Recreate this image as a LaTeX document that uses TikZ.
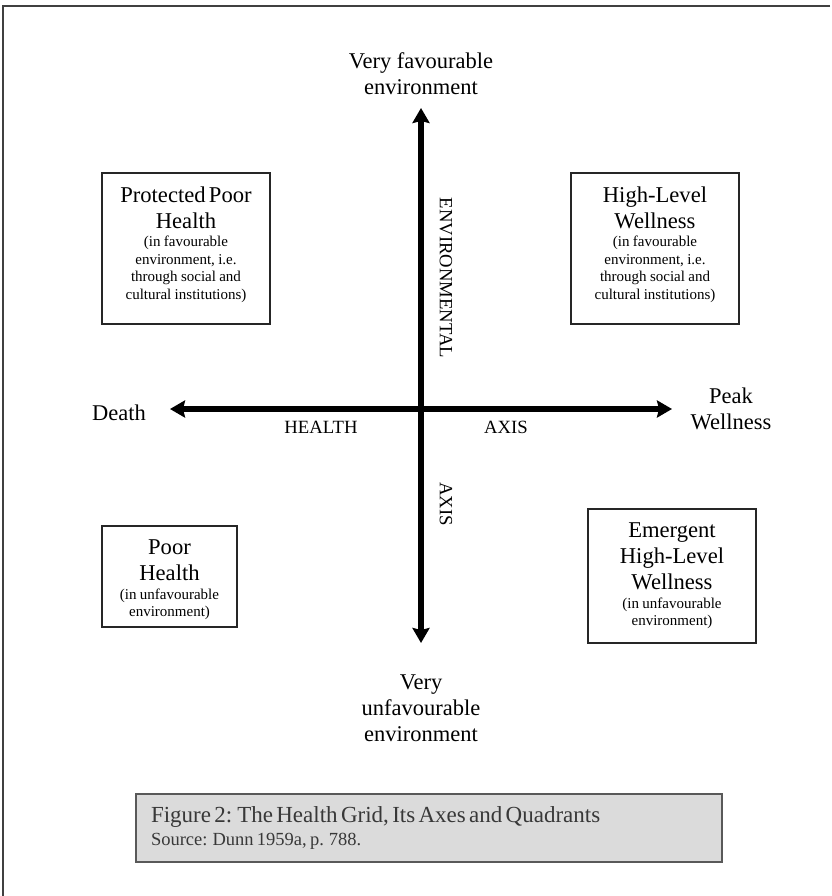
\documentclass[tikz,border=0pt]{standalone}
\usepackage{fontspec}
\setmainfont{Liberation Serif}
\usetikzlibrary{arrows.meta}
\newcommand\qtitle{\fontsize{22.6}{26}\selectfont}
\newcommand\qsub{\vspace{0.8pt}\fontsize{15}{17.6}\selectfont}
\newcommand\qend{\par\vspace{8pt}\hrule height 0pt width 0pt\relax}
\newcommand\qtop{\hrule height 0pt width 0pt\vspace{7pt}}
\begin{document}
\begin{tikzpicture}[x=1pt,y=-1pt,
  lbl/.style={align=center,font=\fontsize{22.5}{26}\selectfont,inner sep=0pt},
  axislbl/.style={font=\fontsize{18.7}{20}\selectfont,inner sep=0pt},
  quad/.style={draw=black!85,line width=1.3pt,inner sep=0pt,align=center},
  axisline/.style={line width=6pt,
    {Stealth[length=15pt,width=17pt,inset=2pt]}-{Stealth[length=15pt,width=17pt,inset=2pt]}},
  frame/.style={line width=1.8pt,draw=black!75},
  caption/.style={draw=black!65,line width=2pt,fill=black!14,text=black!78,
    inner xsep=15pt,inner ysep=0pt,align=left}]
\useasboundingbox (0,0) rectangle (831,896);
% outer frame (top and left edges only)
\draw[frame] (830,6) -- (3,6) -- (3,896);
% end labels
\node[lbl] (vfav) at (421,74) {Very favourable\\environment};
\node[lbl] (vunfav) at (421,708) {Very\\unfavourable\\environment};
\node[lbl] (death) at (119,413) {Death};
\node[lbl] (peak) at (731,408.5) {Peak\\Wellness};
% axes
\coordinate (N) at (421,108);
\coordinate (S) at (421,643);
\coordinate (W) at (170,409);
\coordinate (E) at (672,409);
\draw[axisline] (W) -- (E);
\draw[axisline] (S) -- (N);
% axis labels
\node[axislbl] (health) at (321,427) {HEALTH};
\node[axislbl] (haxis) at (506,427) {AXIS};
\node[axislbl,rotate=-90] (env) at (446,278) {ENVIRONMENTAL};
\node[axislbl,rotate=-90] (vaxis) at (446,504) {AXIS};
% quadrant boxes
\node[quad,text width=168pt,minimum height=151pt] (pph) at (186,248.5)
  {\qtitle Protected Poor\\Health\par\qsub (in favourable\\environment, i.e.\\through social and\\cultural institutions)\qend};
\node[quad,text width=168pt,minimum height=151pt] (hlw) at (655,248.5)
  {\qtitle High-Level\\Wellness\par\qsub (in favourable\\environment, i.e.\\through social and\\cultural institutions)\qend};
\node[quad,text width=135pt,minimum height=101pt] (ph) at (169.5,576.5)
  {\qtop\qtitle Poor\\Health\par\qsub (in unfavourable\\environment)\par};
\node[quad,text width=168pt,minimum height=134pt] (ehlw) at (672,576)
  {\qtitle Emergent\\High-Level\\Wellness\par\qsub (in unfavourable\\environment)\par};
% caption
\node[caption,text width=556pt,minimum height=68pt] (cap) at (429,828)
  {\fontsize{23}{24}\selectfont Figure 2: The Health Grid, Its Axes and Quadrants\par
   \fontsize{18.5}{23.5}\selectfont Source: Dunn 1959a, p. 788.\par};
\end{tikzpicture}
\end{document}
